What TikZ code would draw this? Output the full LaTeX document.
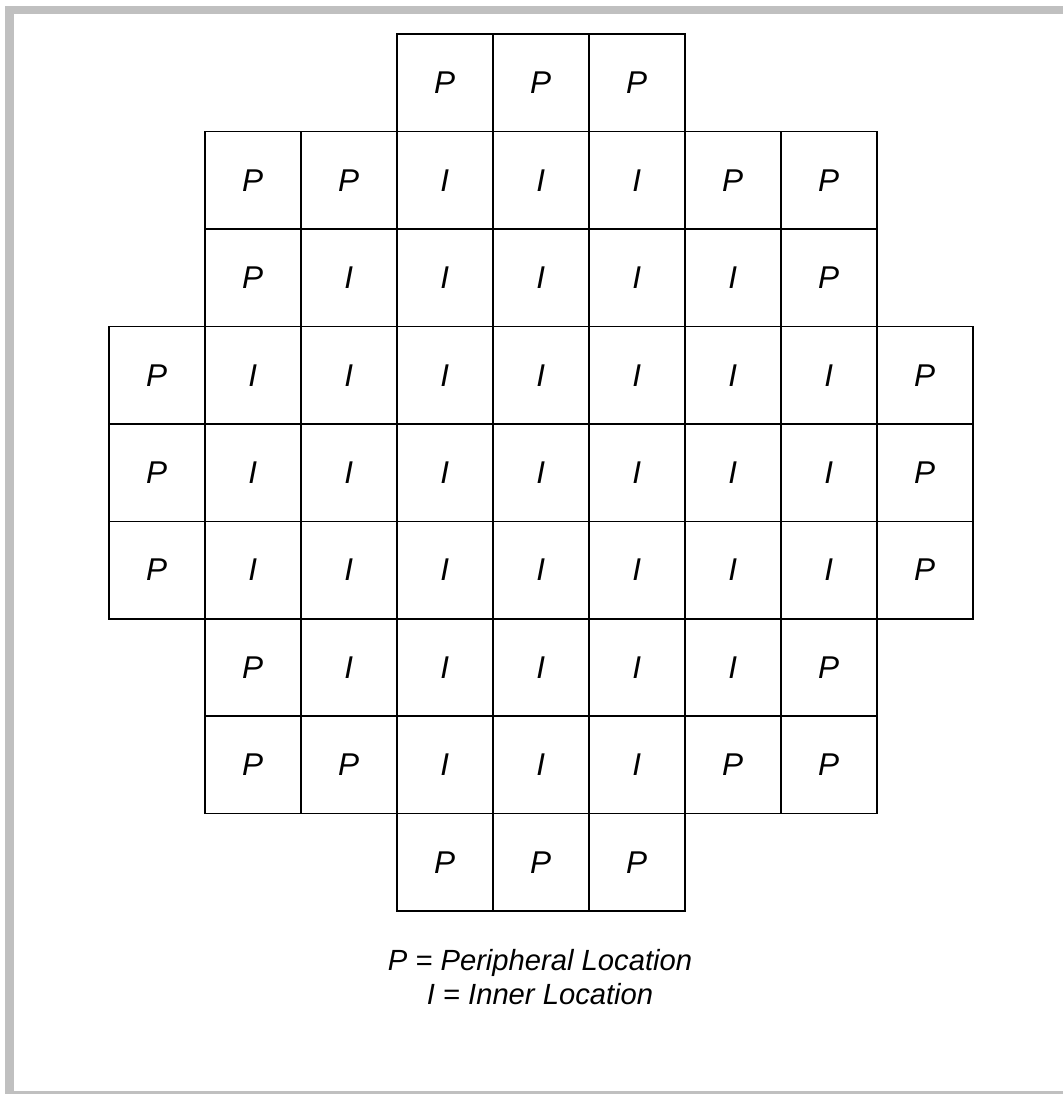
\documentclass[tikz,border=0pt]{standalone}
\usepackage{fontspec}
\setmainfont{Liberation Sans}
\definecolor{framegray}{RGB}{192,192,192}
\tikzset{
  cell/.style={draw=black, line width=1.6pt, minimum width=96pt, minimum height=97.4pt,
    inner sep=0pt, font=\fontsize{31.5}{36}\selectfont\itshape},
  legend/.style={anchor=base, inner sep=0pt, font=\fontsize{29.2}{34}\selectfont\itshape}
}
\begin{document}
\begin{tikzpicture}[x=1pt,y=-1pt]
\useasboundingbox (0,0) rectangle (1063,1094);
% frame
\fill[framegray] (5,6) rectangle (1063,14.5);
\fill[framegray] (5,6) rectangle (13.5,1094);
\fill[framegray] (5,1090.7) rectangle (1063,1094);
% grid
\foreach \r/\row in {0/{-,-,-,P,P,P,-,-,-},
                     1/{-,P,P,I,I,I,P,P,-},
                     2/{-,P,I,I,I,I,I,P,-},
                     3/{P,I,I,I,I,I,I,I,P},
                     4/{P,I,I,I,I,I,I,I,P},
                     5/{P,I,I,I,I,I,I,I,P},
                     6/{-,P,I,I,I,I,I,P,-},
                     7/{-,P,P,I,I,I,P,P,-},
                     8/{-,-,-,P,P,P,-,-,-}}{
  \foreach \t [count=\c from 0] in \row {
    \if\t-\else
      \node[cell] (c-\r-\c) at ({108.7+96*\c+48},{34.3+97.4*\r+48.7}) {\t};
    \fi
  }
}
% legend
\node[legend] (leg1) at (540,970.7) {P = Peripheral Location};
\node[legend] (leg2) at (540,1004) {I = Inner Location};
\end{tikzpicture}
\end{document}
